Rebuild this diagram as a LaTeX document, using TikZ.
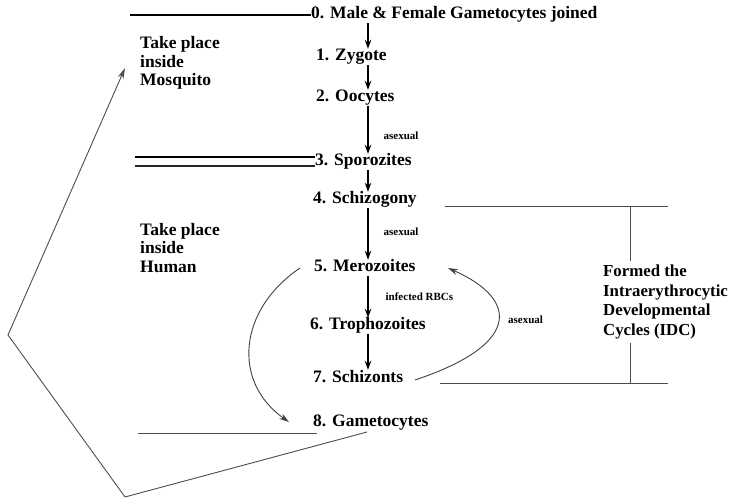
\documentclass[tikz,border=0pt]{standalone}
\usepackage{fontspec}
\setmainfont{Liberation Serif}
\usetikzlibrary{arrows.meta}
\begin{document}
\begin{tikzpicture}[x=1pt,y=-1pt,
  stage/.style={anchor=west,inner xsep=0pt,inner ysep=0pt,text height=12pt,text depth=4pt,
                font=\fontsize{17.5}{18}\selectfont\bfseries},
  place/.style={anchor=west,inner sep=0pt,align=left,font=\fontsize{17.5}{18.5}\selectfont\bfseries},
  tag/.style={anchor=west,inner sep=0pt,font=\fontsize{11}{12}\selectfont\bfseries},
  flow/.style={-{Stealth[length=9pt,width=6.5pt]},line width=1.3pt},
  loop/.style={-{Stealth[length=10pt,width=6pt]},line width=0.9pt,draw=black!75},
  rule/.style={line width=0.9pt,draw=black!70}]
\useasboundingbox (0,0) rectangle (732,500);

% life-cycle stages
\node[stage] (n0) at (311,15)  {0. Male \& Female Gametocytes joined};
\node[stage] (n1) at (316,57)  {1. Zygote};
\node[stage] (n2) at (316,98)  {2. Oocytes};
\node[stage] (n3) at (315,162) {3. Sporozites};
\node[stage] (n4) at (313,200) {4. Schizogony};
\node[stage] (n5) at (314,268) {5. Merozoites};
\node[stage] (n6) at (310,326) {6. Trophozoites};
\node[stage] (n7) at (313,378) {7. Schizonts};
\node[stage] (n8) at (313,422) {8. Gametocytes};

% host labels
\node[place] (mosq) at (140,63) {Take place\\inside\\Mosquito};
\node[place] (human) at (140,248) {Take place\\inside\\Human};
\node[place,inner ysep=4pt,font=\fontsize{16.8}{19.5}\selectfont\bfseries] (idc) at (603,302)
  {Formed the\\Intraerythrocytic\\Developmental\\Cycles (IDC)};

% main vertical flow
\coordinate (ax) at (368,0);
\draw[flow] (n0.south -| ax) -- (n1.north -| ax);
\draw[flow] (n1.south -| ax) -- (n2.north -| ax);
\draw[flow] (n2.south -| ax) -- node[tag,pos=0.62,xshift=15pt] (t1) {asexual} (n3.north -| ax);
\draw[flow] (n3.south -| ax) -- (n4.north -| ax);
\draw[flow] (n4.south -| ax) -- node[tag,pos=0.45,xshift=15pt] (t2) {asexual} (n5.north -| ax);
\draw[flow] (n5.south -| ax) -- node[tag,pos=0.5,xshift=17pt] (t3) {infected RBCs} (n6.north -| ax);
\draw[flow] (n6.south -| ax) -- (n7.north -| ax);

% separators between hosts
\coordinate (s0) at (130,15);
\coordinate (s1) at (135,157);
\coordinate (s2) at (135,166);
\coordinate (s3) at (138,433);
\coordinate (e3) at (317,433);
\draw[line width=1.1pt] (s0) -- (n0.west);
\draw[line width=1.1pt] (s1) -- (s1 -| n3.west);
\draw[line width=2.2pt,draw=black!85] (s2) -- (s2 -| n3.west);
\draw[rule] (s3) -- (e3);

% IDC bracket
\coordinate (b1) at (445,206);
\coordinate (b2) at (668,206);
\coordinate (b3) at (440,383);
\coordinate (b4) at (668,383);
\coordinate (bx) at (630,0);
\draw[rule] (b1) -- (b2);
\draw[rule] (b3) -- (b4);
\draw[rule] (b1 -| bx) -- (idc.north -| bx);
\draw[rule] (idc.south -| bx) -- (b3 -| bx);

% branch to gametocytes and asexual loop
\coordinate (m5) at ([xshift=-14pt]n5.west);
\coordinate (g8) at ([xshift=-24pt]n8.west);
\draw[loop] (m5) .. controls (238,310) and (232,382) .. (g8);
\coordinate (m7) at (415,380);
\coordinate (m5r) at (448,268);
\draw[loop] (m7) .. controls (520,345) and (520,300) .. (m5r);
\node[tag] (t4) at (508,320) {asexual};

% return to mosquito
\coordinate (r0) at (367,432);
\coordinate (r1) at (125,497);
\coordinate (r2) at (8,335);
\coordinate (r3) at (125,68);
\draw[rule,-{Stealth[length=11pt,width=6pt]}] (r0) -- (r1) -- (r2) -- (r3);
\end{tikzpicture}
\end{document}
